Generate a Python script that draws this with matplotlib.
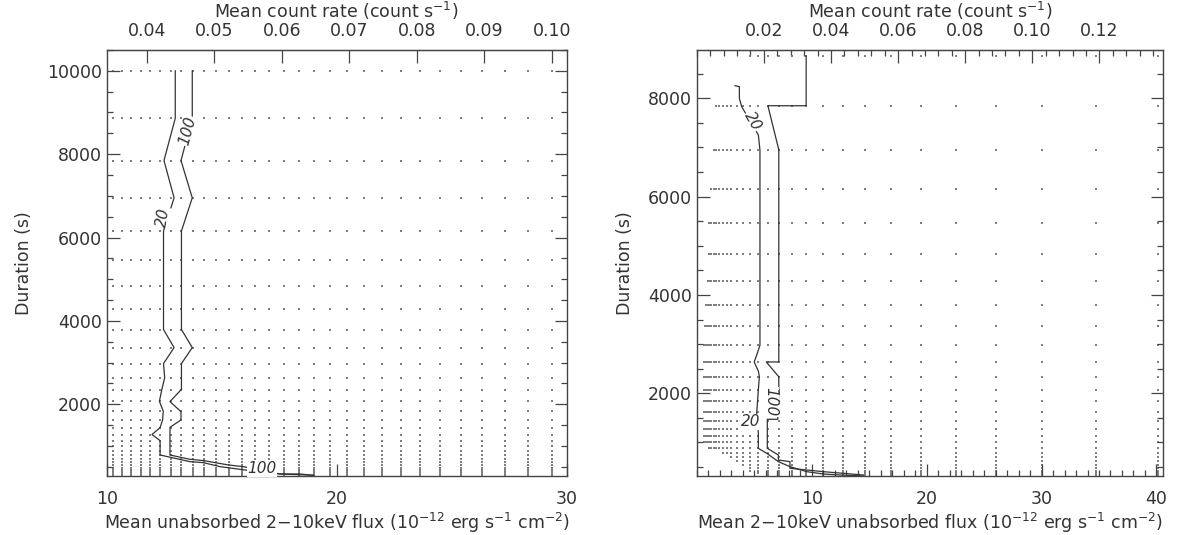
import matplotlib
matplotlib.use('Agg')
import matplotlib.pyplot as plt
from matplotlib.ticker import MultipleLocator, FixedLocator, FormatStrFormatter

plt.rcParams['font.family'] = ['DejaVu Sans']
plt.rcParams['mathtext.default'] = 'regular'

# simulated durations (s), one row of dots each
durations = [10000, 8859, 7848, 6952, 6159, 5456, 4833, 4282, 3793, 3360,
             2977, 2637, 2336, 2070, 1833, 1624, 1439, 1275, 1129, 1000,
             886, 785, 695, 616, 546, 483, 428, 379, 336, 298]

# simulated fluxes (1e-12 erg/s/cm2), one column of dots each
flux_left = [10.29, 10.67, 11.06, 11.47, 11.89, 12.33, 12.78, 13.25, 13.74, 14.25,
             14.77, 15.31, 15.88, 16.46, 17.07, 17.70, 18.35, 19.02, 19.72, 20.45,
             21.20, 21.98, 22.79, 23.63, 24.50, 25.40, 26.33, 27.30, 28.31, 29.35]
flux_right = [0.62, 0.72, 0.83, 0.96, 1.10, 1.27, 1.47, 1.70, 1.96, 2.26,
              2.61, 3.02, 3.48, 4.02, 4.64, 5.36, 6.19, 7.14, 8.25, 9.52,
              11.00, 12.70, 14.66, 16.92, 19.54, 22.56, 26.05, 30.08, 34.73, 40.09]
# first populated column in each duration row of the right panel
right_first_col = [30, 14, 7, 6, 5, 4, 4, 3, 2, 1,
                   0, 0, 0, 0, 0, 0, 0, 0, 0, 0,
                   4, 9, 11, 12, 13, 14, 14, 15, 16, 16]

# flux per unit count rate
left_conv = 293.5
right_conv = 292.0
left_rate_ticks = [0.04, 0.05, 0.06, 0.07, 0.08, 0.09, 0.10]
right_rate_ticks = [0.02, 0.04, 0.06, 0.08, 0.10, 0.12]

# contour lines (flux, duration)
left_c20_flux = [12.98, 12.98, 12.49, 12.93, 12.47, 12.47, 12.93, 12.47, 12.52, 12.39,
                 12.29, 12.46, 12.43, 12.32, 11.97, 12.32, 12.32, 13.62, 14.20, 14.93,
                 16.01, 17.50, 19.00]
left_c20_dur = [10000, 8859, 7848, 6952, 6159, 3793, 3360, 2977, 2637, 2336,
                2070, 1833, 1624, 1439, 1275, 1129, 784, 624, 600, 504,
                424, 330, 298]
left_c100_flux = [13.72, 13.72, 13.23, 13.72, 13.25, 13.25, 13.72, 13.25, 13.25, 13.25,
                  12.75, 13.23, 13.23, 12.75, 12.75, 13.62, 14.23, 15.29, 15.94, 17.54,
                  18.41, 18.99]
left_c100_dur = [10000, 8859, 7848, 6952, 6159, 3793, 3360, 2977, 2637, 2360,
                 2064, 1824, 1624, 1448, 784, 680, 648, 544, 504, 328,
                 328, 296]
right_c20_flux = [3.33, 3.71, 3.71, 3.91, 5.36, 5.50, 5.50, 5.25, 5.00, 5.36,
                  5.45, 5.36, 5.22, 5.36, 5.36, 6.09, 7.10, 8.11, 9.57, 11.00,
                  12.47, 14.50]
right_c20_dur = [8256, 8236, 8000, 7829, 7254, 6948, 2977, 2800, 2637, 2450,
                 2336, 2070, 1600, 1186, 881, 779, 610, 508, 406, 359,
                 338, 318]
right_c100_flux = [9.52, 9.52, 6.19, 7.14, 7.14, 6.05, 7.14, 7.14, 7.05, 6.14,
                   6.14, 7.10, 7.10, 8.11, 8.11, 9.57, 11.00, 14.50]
right_c100_dur = [8859, 7848, 7848, 6952, 2637, 2637, 2336, 2070, 1471, 1471,
                  881, 745, 643, 610, 474, 440, 406, 338]

# contour labels: text, flux, duration, rotation
left_labels = [('20', 12.47, 6480, 80), ('100', 13.50, 8560, 75), ('100', 16.75, 455, 0)]
right_labels = [('20', 4.85, 7530, -60), ('20', 4.70, 1420, 0), ('100', 6.45, 1830, -90)]

dot_color = '#7f7f7f'
line_color = '#333333'
axis_color = '#444444'
text_color = '#333333'
fs = 12.5

fig = plt.figure(figsize=(11.91, 5.35), dpi=100)
ax1 = fig.add_axes([0.0896, 0.1103, 0.3862, 0.7963])
ax2 = fig.add_axes([0.585, 0.1103, 0.3918, 0.7963])


def style_axes(ax):
    for sp in ax.spines.values():
        sp.set_color(axis_color)
        sp.set_linewidth(1.0)
    ax.tick_params(which='both', direction='in', colors=axis_color,
                   labelcolor=text_color, labelsize=fs, top=False, right=True)
    ax.tick_params(which='major', length=9, width=0.9)
    ax.tick_params(which='minor', length=4.5, width=0.9)
    ax.tick_params(axis='x', pad=10)
    ax.yaxis.set_major_locator(MultipleLocator(2000))
    ax.yaxis.set_minor_locator(MultipleLocator(500))
    ax.set_ylabel('Duration (s)', fontsize=fs, color=text_color, labelpad=10)


def add_top(ax, conv, ticks, minor):
    top = ax.secondary_xaxis('top', functions=(lambda f: f / conv, lambda r: r * conv))
    top.xaxis.set_major_locator(FixedLocator(ticks))
    if minor:
        top.xaxis.set_minor_locator(MultipleLocator(minor))
    top.xaxis.set_major_formatter(FormatStrFormatter('%.2f'))
    top.tick_params(which='both', direction='in', colors=axis_color,
                    labelcolor=text_color, labelsize=fs, pad=7)
    top.tick_params(which='major', length=9, width=0.9)
    top.tick_params(which='minor', length=4.5, width=0.9)
    top.spines['top'].set_color(axis_color)
    top.set_xlabel('Mean count rate (count s$^{-1}$)', fontsize=fs,
                   color=text_color, labelpad=3)
    return top


# left panel: full grid
xs, ys = [], []
for d in durations:
    for f in flux_left:
        xs.append(f)
        ys.append(d)
ax1.scatter(xs, ys, s=3.6, marker='s', color=dot_color, linewidths=0, zorder=1)
ax1.plot(left_c20_flux, left_c20_dur, color=line_color, lw=0.9, zorder=2)
ax1.plot(left_c100_flux, left_c100_dur, color=line_color, lw=0.9, zorder=2)
for txt, fx, dy, rot in left_labels:
    ax1.text(fx, dy, txt, rotation=rot, ha='center', va='center', fontsize=11,
             style='italic', color=line_color, zorder=3,
             bbox=dict(facecolor='white', edgecolor='none', pad=0.3))
ax1.set_xlim(10, 30)
ax1.set_ylim(280, 10500)
ax1.xaxis.set_major_locator(MultipleLocator(10))
style_axes(ax1)
ax1.set_xlabel('Mean unabsorbed 2\u221210keV flux (10$^{-12}$ erg s$^{-1}$ cm$^{-2}$)',
               fontsize=fs, color=text_color, labelpad=2)
add_top(ax1, left_conv, left_rate_ticks, None)

# right panel: masked grid
xs, ys = [], []
for d, c0 in zip(durations, right_first_col):
    for f in flux_right[c0:]:
        xs.append(f)
        ys.append(d)
ax2.scatter(xs, ys, s=3.6, marker='s', color=dot_color, linewidths=0, zorder=1)
ax2.plot(right_c20_flux, right_c20_dur, color=line_color, lw=0.9, zorder=2)
ax2.plot(right_c100_flux, right_c100_dur, color=line_color, lw=0.9, zorder=2)
for txt, fx, dy, rot in right_labels:
    ax2.text(fx, dy, txt, rotation=rot, ha='center', va='center', fontsize=11,
             style='italic', color=line_color, zorder=3,
             bbox=dict(facecolor='white', edgecolor='none', pad=0.3))
ax2.set_xlim(0, 40.6)
ax2.set_ylim(318, 8982)
ax2.xaxis.set_minor_locator(MultipleLocator(1))
ax2.set_xticks([10, 20, 30, 40])
style_axes(ax2)
ax2.set_xlabel('Mean 2\u221210keV unabsorbed flux (10$^{-12}$ erg s$^{-1}$ cm$^{-2}$)',
               fontsize=fs, color=text_color, labelpad=2)
add_top(ax2, right_conv, right_rate_ticks, 0.004)

fig.savefig('out.png', dpi=100)
